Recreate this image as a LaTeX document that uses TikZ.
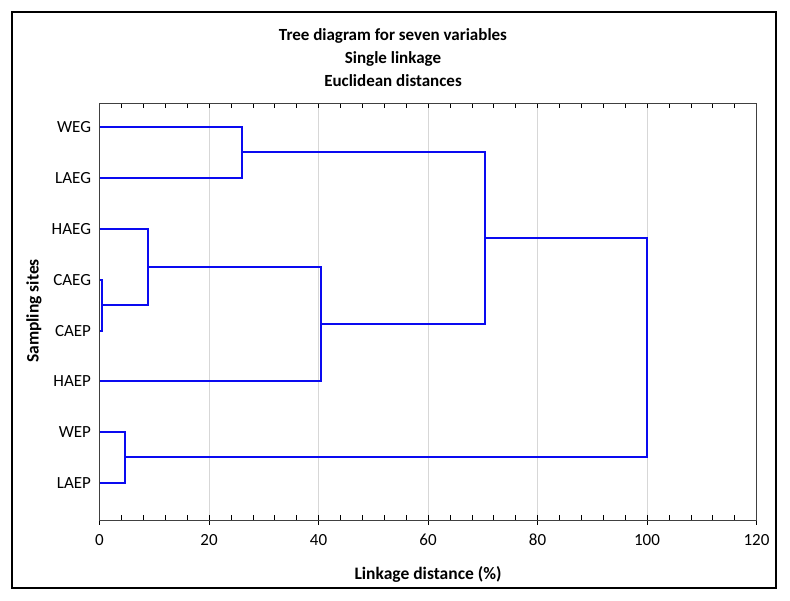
\documentclass[tikz,border=0pt]{standalone}
\usepackage{fontspec}
\setmainfont{Carlito}
\usepackage{xcolor}
\definecolor{dendroblue}{RGB}{10,10,240}
\definecolor{gridgray}{RGB}{215,215,215}
\usetikzlibrary{positioning}

\begin{document}
\begin{tikzpicture}[x=1pt,y=-1pt,inner sep=0pt,outer sep=0pt,
  branch/.style={draw=dendroblue,line width=2pt,line join=miter},
  leaf/.style={anchor=east,font=\fontsize{17}{19}\selectfont},
  ticklab/.style={font=\fontsize{17}{19}\selectfont},
  titletext/.style={font=\bfseries\fontsize{17}{19}\selectfont},
  axistitle/.style={font=\bfseries\fontsize{17.5}{19}\selectfont}]
\useasboundingbox (0,0) rectangle (790,600);
\draw[line width=1.3pt] (12,12) rectangle (776,588);
% title
\node[titletext] (title1) at (393,36) {Tree diagram for seven variables};
\node[titletext] (title2) at (393,58.5) {Single linkage};
\node[titletext] (title3) at (393,81) {Euclidean distances};
% plot area, x in data units
\begin{scope}[shift={(99.5,0)},x=5.475pt]
\foreach \v in {20,40,...,100}
  \draw[gridgray,line width=0.8pt] (\v,103) -- (\v,520);
\foreach \v in {4,8,...,116} {
  \draw[line width=0.6pt] (\v,520) -- (\v,515);
  \draw[line width=0.6pt] (\v,103) -- (\v,108);
}
\foreach \v in {0,20,...,120} {
  \draw[line width=0.8pt] (\v,520) -- (\v,525);
  \node[ticklab] (tick\v) at (\v,540) {\v};
}
\draw[black!75,line width=1pt] (0,103) rectangle (120,520);
% leaves
\foreach \name/\lab/\y in {weg/WEG/127,laeg/LAEG/178,haeg/HAEG/229,caeg/CAEG/280,
    caep/CAEP/331,haep/HAEP/381,wep/WEP/432,laep/LAEP/483} {
  \coordinate (\name) at (0,\y);
  \node[leaf] (\name-lab) at ([xshift=-8.5pt]\name) {\lab};
}
% merge points
\coordinate (mwl) at (26,152);
\coordinate (mcc) at (0.45,305);
\coordinate (mh) at (8.8,267);
\coordinate (mhp) at (40.5,324);
\coordinate (mbig) at (70.5,238);
\coordinate (mwp) at (4.6,457);
\coordinate (mroot) at (100,348);
\draw[branch] (weg) -| (mwl) |- (laeg);
\draw[branch] (caeg) -| (mcc) |- (caep);
\draw[branch] (haeg) -| (mh) |- (mcc);
\draw[branch] (mh) -| (mhp) |- (haep);
\draw[branch] (mwl) -| (mbig) |- (mhp);
\draw[branch] (wep) -| (mwp) |- (laep);
\draw[branch] (mbig) -| (mroot) |- (mwp);
\end{scope}
% axis titles
\node[axistitle,rotate=90] (ytitle) at (34,311) {Sampling sites};
\node[axistitle] (xtitle) at (428,574) {Linkage distance (\%)};
\end{tikzpicture}
\end{document}
